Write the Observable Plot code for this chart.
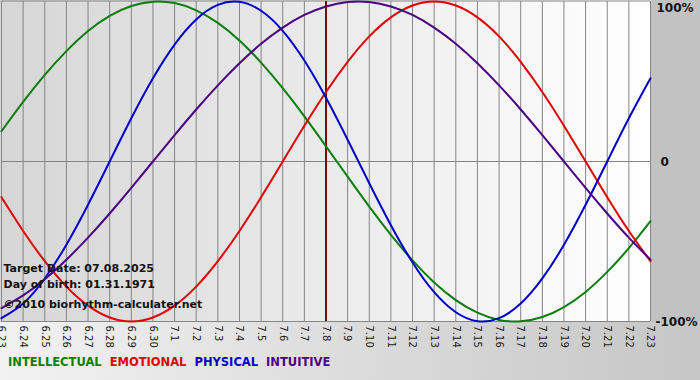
<!DOCTYPE html>
<html>
<head>
<meta charset="utf-8">
<script src="https://cdn.jsdelivr.net/npm/d3@7"></script>
<script src="https://cdn.jsdelivr.net/npm/@observablehq/plot@0.6"></script>
<style>
  html, body { margin: 0; padding: 0; }
  body { width: 700px; height: 380px; overflow: hidden; background: linear-gradient(to right, #f2f2f2, #c6c6c6); font-family: Tahoma, "DejaVu Sans", Verdana, sans-serif; }
  #legend { height: 30px; font: bold 11.5px "DejaVu Sans", Verdana, sans-serif; padding-left: 8px; line-height: 25px; }
  #legend span { margin-right: 8px; }
</style>
</head>
<body>
<div id="chart"></div>
<div id="legend"></div>
<script>
const dayLabels = ["6.23","6.24","6.25","6.26","6.27","6.28","6.29","6.30","7.1","7.2","7.3","7.4","7.5","7.6","7.7","7.8","7.9","7.10","7.11","7.12","7.13","7.14","7.15","7.16","7.17","7.18","7.19","7.20","7.21","7.22","7.23"];
const physical = [-0.979,-0.888,-0.731,-0.520,-0.270,0,0.270,0.520,0.731,0.888,0.979,0.998,0.942,0.817,0.631,0.398,0.136,-0.136,-0.398,-0.631,-0.817,-0.942,-0.998,-0.979,-0.888,-0.731,-0.520,-0.270,0,0.270,0.520];
const emotional = [-0.223,-0.434,-0.623,-0.782,-0.901,-0.975,-1,-0.975,-0.901,-0.782,-0.623,-0.434,-0.223,0,0.223,0.434,0.623,0.782,0.901,0.975,1,0.975,0.901,0.782,0.623,0.434,0.223,0,-0.223,-0.434,-0.623];
const intellectual = [0.189,0.372,0.541,0.690,0.815,0.910,0.972,0.999,0.990,0.945,0.866,0.756,0.618,0.458,0.282,0.095,-0.095,-0.282,-0.458,-0.618,-0.756,-0.866,-0.945,-0.990,-0.999,-0.972,-0.910,-0.815,-0.690,-0.541,-0.372];
const intuitive = [-0.916,-0.837,-0.736,-0.614,-0.476,-0.325,-0.165,0,0.165,0.325,0.476,0.614,0.736,0.837,0.916,0.969,0.997,0.997,0.969,0.916,0.837,0.736,0.614,0.476,0.325,0.165,0,-0.165,-0.325,-0.476,-0.614];
const seriesNames = ["INTELLECTUAL","EMOTIONAL","PHYSICAL","INTUITIVE"];
const seriesColors = ["#0a7d0a","#e00000","#0000cc","#4b0082"];
const yTicks = [1, 0, -1];
const yTickLabels = ["100%", "0", "-100%"];
const targetIndex = 15;
const infoLines = ["Target Date: 07.08.2025", "Day of birth: 01.31.1971", "\u00a92010 biorhythm-calculater.net"];

const seriesValues = [intellectual, emotional, physical, intuitive];
const rows = [];
seriesNames.forEach((name, s) => seriesValues[s].forEach((v, i) => rows.push({series: name, i, v})));
const idx = dayLabels.map((_, i) => i);

const W = 700, H = 350, mL = 1, mR = 50, mT = 1, mB = 29;

const defs = () => {
  const g = d3.create("svg:g");
  const d = g.append("defs");
  const lg = d.append("linearGradient").attr("id", "plotbg").attr("x1", "0").attr("x2", "1").attr("y1", "0").attr("y2", "0");
  lg.append("stop").attr("offset", "0").attr("stop-color", "#d6d6d6");
  lg.append("stop").attr("offset", "1").attr("stop-color", "#ffffff");
  g.append("rect").attr("x", 0).attr("y", 0).attr("width", W - mR + 1).attr("height", H - mB + 1).attr("fill", "url(#plotbg)");
  g.append("rect").attr("x", W - mR + 1).attr("y", 0).attr("width", mR).attr("height", H - mB + 1).attr("fill", "#c2c2c2");
  return g.node();
};

const yLabelDx = [6, 10, 5];
const yLabelDy = [7, 1, 1];

const chart = Plot.plot({
  width: W, height: H,
  marginLeft: mL, marginRight: mR, marginTop: mT, marginBottom: mB,
  style: {background: "transparent", overflow: "visible"},
  x: {domain: [0, dayLabels.length - 1], axis: null},
  y: {domain: [-1, 1], axis: null},
  color: {domain: seriesNames, range: seriesColors},
  marks: [
    defs,
    Plot.ruleX(idx, {x: d => d, stroke: "#858585", strokeWidth: 1}),
    Plot.ruleY([0], {stroke: "#858585", strokeWidth: 1}),
    Plot.ruleY([1], {stroke: "#858585", strokeWidth: 1, dy: -0.5}),
    Plot.ruleY([-1], {stroke: "#858585", strokeWidth: 1}),
    Plot.ruleX([targetIndex], {stroke: "#7a0a0a", strokeWidth: 2}),
    Plot.line(rows, {x: "i", y: "v", z: "series", stroke: "series", strokeWidth: 2, curve: "natural"}),
    Plot.text(idx, {x: d => d, y: -1, text: d => dayLabels[d], rotate: 90, textAnchor: "start", dy: 4, dx: 0, fontSize: 10, fontFamily: "DejaVu Sans, Verdana, sans-serif", fill: "#222"}),
    Plot.text([0, 1, 2], {x: dayLabels.length - 1, y: i => yTicks[i], text: i => yTickLabels[i], textAnchor: "start", dx: 0, fontSize: 12, fontWeight: "bold", fontFamily: "DejaVu Sans, Verdana, sans-serif", fill: "#111",
      render: (index, scales, values, dims, context, next) => {
        const g = next(index, scales, values, dims, context);
        d3.select(g).selectAll("text").each(function(_, k) {
          const t = d3.select(this);
          const tr = t.attr("transform") || "";
          t.attr("transform", tr + ` translate(${yLabelDx[k]},${yLabelDy[k]})`);
        });
        return g;
      }}),
    Plot.text(infoLines, {x: 0, y: -1, text: d => d, textAnchor: "start", frameAnchor: "left", fontSize: 11, fontWeight: "bold", fontFamily: "DejaVu Sans, Verdana, sans-serif", fill: "#111"})
  ]
});
// position info lines
d3.select(chart).selectAll("text").filter(function() { return infoLines.includes(this.textContent); })
  .each(function() {
    const k = infoLines.indexOf(this.textContent);
    d3.select(this).attr("transform", `translate(3, ${[271, 287, 307][k]})`).attr("x", null).attr("y", null);
  });
document.getElementById("chart").appendChild(chart);

const leg = d3.select("#legend");
seriesNames.forEach((n, i) => leg.append("span").style("color", seriesColors[i]).text(n));
</script>
</body>
</html>
